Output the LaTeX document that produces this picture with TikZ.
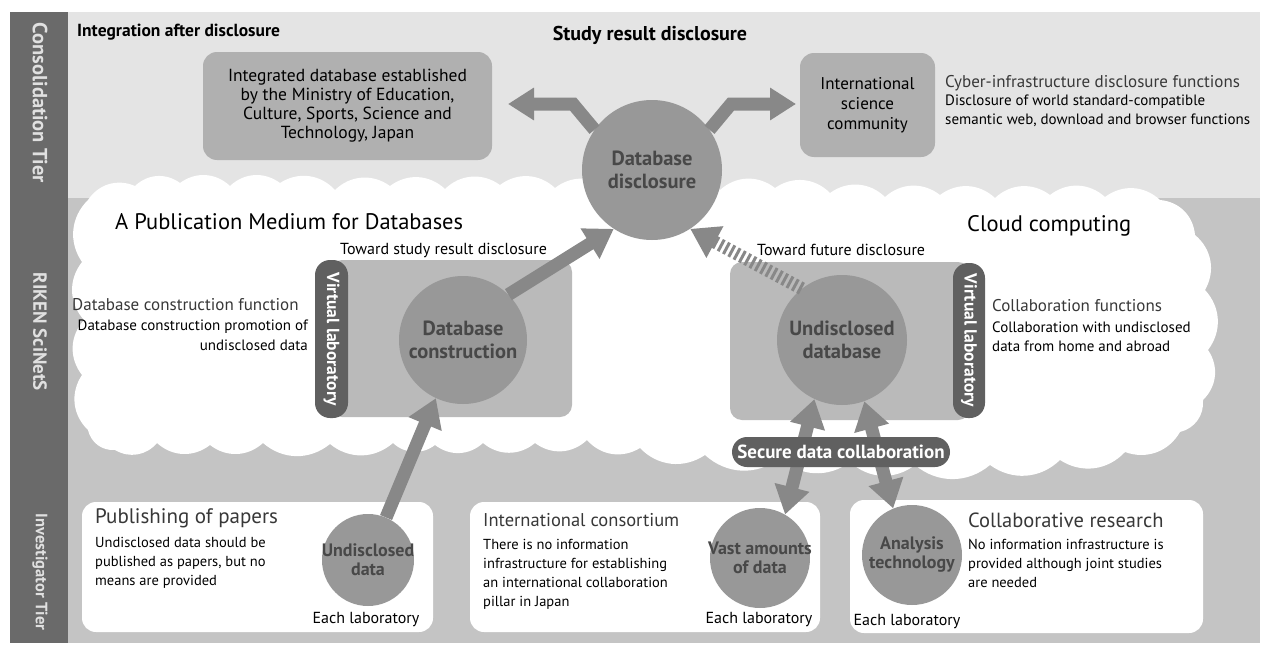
\documentclass[tikz,border=0pt]{standalone}
\usepackage{fontspec}
\setmainfont{PT Sans}
\usetikzlibrary{arrows.meta,calc}
\definecolor{bandtop}{HTML}{E4E4E4}
\definecolor{bandmid}{HTML}{C4C4C4}
\definecolor{tierbar}{HTML}{6A6A6A}
\definecolor{tiertext}{HTML}{E0E0E0}
\definecolor{greybox}{HTML}{B0B0B0}
\definecolor{vlabfill}{HTML}{BABABA}
\definecolor{circfill}{HTML}{989898}
\definecolor{pillfill}{HTML}{606060}
\definecolor{arrowfill}{HTML}{888888}
\definecolor{circtext}{HTML}{484848}
\definecolor{headtext}{HTML}{383838}
\begin{document}
\begin{tikzpicture}[x=1pt,y=-1pt,
  tierlabel/.style={rotate=-90,text=tiertext,font=\fontsize{20.5}{22}\selectfont\bfseries,inner sep=0},
  boldtitle/.style={font=\fontsize{17.5}{20}\selectfont\bfseries,inner sep=0},
  bigtitle/.style={font=\fontsize{22.5}{25}\selectfont,anchor=west,inner sep=0},
  heading/.style={font=\fontsize{19.5}{22}\selectfont,text=headtext,anchor=west,inner sep=0},
  body/.style={font=\fontsize{14.5}{19}\selectfont,align=left,anchor=north west,inner sep=0},
  plain/.style={font=\fontsize{16}{19}\selectfont,inner sep=0},
  greyrect/.style={rectangle,rounded corners=14pt,fill=greybox,inner sep=0,align=center,font=\fontsize{17.5}{19}\selectfont},
  vlab/.style={rectangle,rounded corners=12pt,fill=vlabfill,inner sep=0},
  whitebox/.style={rectangle,rounded corners=14pt,fill=white,inner sep=0},
  pill/.style={rectangle,rounded corners=15pt,fill=pillfill,text=white,inner sep=0,font=\fontsize{17.5}{19}\selectfont\bfseries},
  circ/.style={circle,fill=circfill,inner sep=0},
  circlabel/.style={align=center,text=circtext,font=\fontsize{20.5}{23}\selectfont\bfseries,inner sep=0},
  smallcirclabel/.style={align=center,text=circtext,font=\fontsize{18}{19}\selectfont\bfseries,inner sep=0},
  fat/.style={draw=arrowfill,line width=13pt,-{Triangle[width=34pt,length=28pt]}},
  fatdouble/.style={draw=arrowfill,line width=13pt,{Triangle[width=34pt,length=28pt]}-{Triangle[width=34pt,length=28pt]}},
  fatdashed/.style={draw=arrowfill,line width=13pt,dash pattern=on 3pt off 3pt,-{Triangle[width=34pt,length=28pt]}},
  fatbent/.style={draw=arrowfill,line width=13pt,line join=miter,-{Triangle[width=31pt,length=26pt]}}
]
\useasboundingbox (0,0) rectangle (1262,645);
\fill[white] (0,0) rectangle (1262,645);
% bands
\fill[bandtop] (68,12) rectangle (1260,198);
\fill[bandmid] (68,198) rectangle (1260,643);
\fill[tierbar] (10,12) rectangle (68,643);
\node[tierlabel] (t1) at (40,103) {Consolidation Tier};
\node[tierlabel,font=\fontsize{19}{22}\selectfont\bfseries] (t2) at (40,332) {RIKEN SciNetS};
\node[tierlabel,font=\fontsize{16.5}{22}\selectfont\bfseries] (t3) at (40,572) {Investigator Tier};
% cloud
\fill[white] (88,200)
  \foreach \x/\y in {135/186,180/183,230/186,280/183,335/190,390/186,445/189,500/185,555/188,610/190,665/188,720/190,775/188,830/193,885/197,940/195,995/198,1050/195,1105/197,1160/200,
  1195/235,1205/290,1208/350,1203/400,1180/432,
  1125/452,1060/460,990/465,915/465,850/462,780/458,705/455,640/448,587/440,535/443,483/443,435/445,393/443,330/444,263/443,210/445,157/443,115/450,
  88/430,82/375,84/320,82/262,88/200} { to[bend left=40] (\x,\y) } -- cycle;
% top tier
\node[boldtitle,anchor=west] (integ) at (77,32) {Integration after disclosure};
\node[boldtitle,font=\fontsize{20}{22}\selectfont\bfseries] (study) at (650,35) {Study result disclosure};
\node[greyrect,minimum width=289pt,minimum height=108pt] (mext) at (347.5,106)
  {Integrated database established\\by the Ministry of Education,\\Culture, Sports, Science and\\Technology, Japan};
\node[greyrect,minimum width=135pt,minimum height=104pt,font=\fontsize{17}{20}\selectfont] (intl) at (867.5,105)
  {International\\science\\community};
\node[heading,font=\fontsize{17}{19}\selectfont] (cyberh) at (945,83) {Cyber-infrastructure disclosure functions};
\node[body,font=\fontsize{15}{19}\selectfont] (cyberb) at (945,95) {Disclosure of world standard-compatible\\semantic web, download and browser functions};
% middle tier
\node[bigtitle] (pubmed) at (115,222) {A Publication Medium for Databases};
\node[bigtitle] (cloudc) at (967,226) {Cloud computing};
\node[plain,anchor=west] (tstudy) at (340,250) {Toward study result disclosure};
\node[plain,anchor=west] (tfuture) at (757,250) {Toward future disclosure};
\node[heading,font=\fontsize{17}{19}\selectfont] (dbcfh) at (72,305) {Database construction function};
\node[body,font=\fontsize{15}{20}\selectfont,anchor=north east,align=right] (dbcfb) at (308,320) {Database construction promotion of\\undisclosed data};
\node[heading,font=\fontsize{17}{19}\selectfont] (collfh) at (992,306) {Collaboration functions};
\node[body,font=\fontsize{15}{19}\selectfont] (collfb) at (992,322) {Collaboration with undisclosed\\data from home and abroad};
\node[vlab,minimum width=242pt,minimum height=157pt] (vlabL) at (451,338.5) {};
\node[vlab,minimum width=240pt,minimum height=158pt] (vlabR) at (850,341) {};
\node[pill,rotate=-90,minimum width=158pt,minimum height=33pt] (pillL) at (331.5,339) {Virtual laboratory};
\node[pill,rotate=-90,minimum width=155pt,minimum height=32pt] (pillR) at (969,340.5) {Virtual laboratory};
% bottom tier boxes
\node[whitebox,minimum width=351pt,minimum height=130pt] (pubbox) at (257.5,567) {};
\node[whitebox,minimum width=350pt,minimum height=130pt] (consbox) at (645,567) {};
\node[whitebox,minimum width=353pt,minimum height=133pt] (collbox) at (1026.5,566.5) {};
\node[heading,font=\fontsize{21}{22}\selectfont] (pubh) at (95,518) {Publishing of papers};
\node[body] (pubb) at (95,537) {Undisclosed data should be\\published as papers, but no\\means are provided};
\node[heading,font=\fontsize{18.5}{22}\selectfont] (consh) at (483,520) {International consortium};
\node[body] (consb) at (483,539) {There is no information\\infrastructure for establishing\\an international collaboration\\pillar in Japan};
\node[heading,font=\fontsize{20.5}{22}\selectfont] (collh) at (968,520) {Collaborative research};
\node[body] (collb) at (968,539) {No information infrastructure is\\provided although joint studies\\are needed};
\node[plain] (lab1) at (366,620) {Each laboratory};
\node[plain] (lab2) at (759,620) {Each laboratory};
\node[plain] (lab3) at (907,622) {Each laboratory};
% circles
\node[circ,minimum size=140pt,label={[circlabel]center:Database\\disclosure}] (disc) at (652,170) {};
\node[circ,minimum size=128pt,label={[circlabel]center:Database\\construction}] (constr) at (463,340) {};
\node[circ,minimum size=130pt,label={[circlabel]center:Undisclosed\\database}] (udb) at (842,340) {};
\node[circ,minimum size=92pt,label={[smallcirclabel]center:Undisclosed\\data}] (udata) at (368,560) {};
\node[circ,minimum size=100pt,label={[smallcirclabel]center:Vast amounts\\of data}] (vast) at (760,558) {};
\node[circ,minimum size=100pt,label={[smallcirclabel]center:Analysis\\technology}] (anal) at (912,555) {};
% arrows
\coordinate (lbend) at (573,104);
\coordinate (ltip) at (508,104);
\coordinate (rbend) at (731,104);
\coordinate (rtip) at (796,104);
\draw[fatbent] (disc.145) -- (lbend) -- (ltip);
\draw[fatbent] (disc.35) -- (rbend) -- (rtip);
\draw[fat] (constr.45) -- (disc.237);
\draw[fatdashed] (udb.128) -- (disc.303);
\draw[fat] (udata.67) -- (constr.245);
\draw[fatdouble] (udb.245) -- (vast.60);
\draw[fatdouble] (udb.290) -- (anal.112);
\node[pill,minimum width=218pt,minimum height=30pt,font=\fontsize{19}{20}\selectfont\bfseries] (secure) at (841,452) {Secure data collaboration};
\end{tikzpicture}
\end{document}
